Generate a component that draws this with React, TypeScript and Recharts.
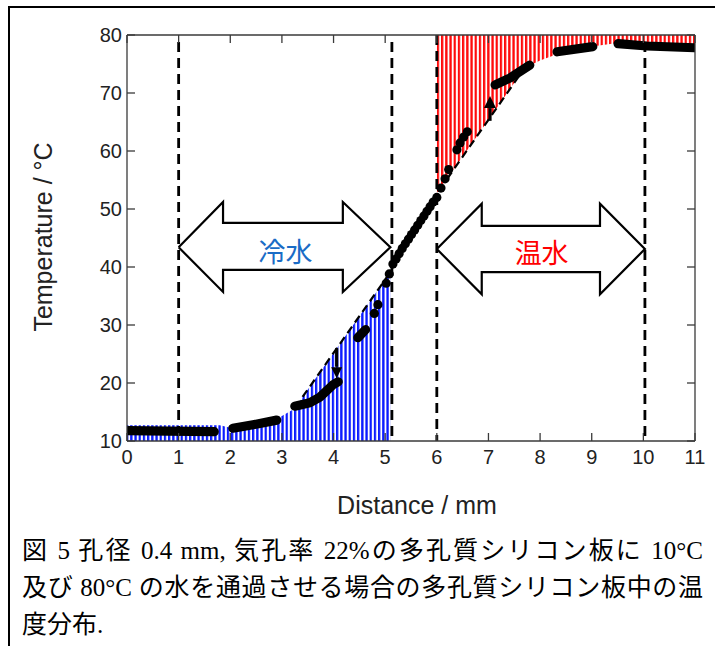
import React from 'react';
import { ComposedChart, XAxis, YAxis, Line, Area, Scatter, ReferenceLine } from 'recharts';

// ---------- data ----------
const xTicks = [0, 1, 2, 3, 4, 5, 6, 7, 8, 9, 10, 11];
const yTicks = [10, 20, 30, 40, 50, 60, 70, 80];

// cold-water hatched region (upper boundary)
const coldRegion = [
  { x: 0, y: 12.7 }, { x: 1.8, y: 12.7 }, { x: 2.0, y: 12.3 }, { x: 2.5, y: 13.0 },
  { x: 3.0, y: 14.3 }, { x: 3.25, y: 15.6 }, { x: 3.4, y: 17.6 }, { x: 5.1, y: 39.1 },
];
// hot-water hatched region (lower boundary up to 80)
const hotRegion = [
  { x: 6.0, r: [52.8, 80] }, { x: 6.2, r: [55.2, 80] }, { x: 7.7, r: [74.3, 80] },
  { x: 8.0, r: [75.6, 80] }, { x: 8.3, r: [76.6, 80] }, { x: 9.0, r: [78.0, 80] },
  { x: 9.5, r: [78.6, 80] }, { x: 11, r: [78.0, 80] },
];
// dense measured segments (drawn as thick bands)
const measuredBands = [
  { x: 0.03, y: 11.8 }, { x: 0.8, y: 11.7 }, { x: 1.69, y: 11.6 }, { x: 1.85, y: null },
  { x: 2.05, y: 12.2 }, { x: 2.44, y: 12.8 }, { x: 2.9, y: 13.6 }, { x: 3.1, y: null },
  { x: 3.25, y: 16.0 }, { x: 3.54, y: 16.6 }, { x: 3.74, y: 17.6 }, { x: 3.99, y: 19.7 }, { x: 4.09, y: 20.2 }, { x: 4.3, y: null },
  { x: 4.47, y: 27.8 }, { x: 4.62, y: 29.2 }, { x: 4.7, y: null },
  { x: 7.13, y: 71.4 }, { x: 7.42, y: 72.6 }, { x: 7.8, y: 74.8 }, { x: 8.0, y: null },
  { x: 8.33, y: 77.1 }, { x: 9.02, y: 78.0 }, { x: 9.3, y: null },
  { x: 9.51, y: 78.5 }, { x: 10.07, y: 78.1 }, { x: 10.99, y: 77.8 },
];
// individual measured dots
const measuredDots = [
  { x: 4.79, y: 32.0 }, { x: 4.86, y: 33.5 }, { x: 5.02, y: 37.2 }, { x: 5.08, y: 38.8 },
  { x: 5.15, y: 40.5 }, { x: 5.21, y: 41.4 }, { x: 5.27, y: 42.3 }, { x: 5.33, y: 43.2 },
  { x: 5.39, y: 44.0 }, { x: 5.45, y: 44.8 }, { x: 5.51, y: 45.6 }, { x: 5.57, y: 46.4 },
  { x: 5.63, y: 47.2 }, { x: 5.69, y: 48.0 }, { x: 5.75, y: 48.8 }, { x: 5.81, y: 49.6 },
  { x: 5.87, y: 50.4 }, { x: 5.93, y: 51.2 }, { x: 6.0, y: 52.0 }, { x: 6.08, y: 53.6 },
  { x: 6.16, y: 55.2 }, { x: 6.23, y: 56.8 }, { x: 6.39, y: 60.2 }, { x: 6.45, y: 61.4 },
  { x: 6.52, y: 62.4 }, { x: 6.59, y: 63.3 },
];
// dashed guide lines
const coldDashed = [{ x: 3.4, y: 17.6 }, { x: 5.1, y: 39.1 }];
const hotDashed = [{ x: 6.2, y: 55.2 }, { x: 7.7, y: 74.3 }];
const boundaryLines = [
  { x: 1, top: 78.8 }, { x: 5.13, top: 78.8 }, { x: 6, top: 80 }, { x: 10.03, top: 78.8 },
];
// double arrows
const coldArrow = [
  { x: 1.0, y: 43.4 }, { x: 1.86, y: 51.2 }, { x: 1.86, y: 47.6 }, { x: 4.18, y: 47.6 },
  { x: 4.18, y: 51.2 }, { x: 5.1, y: 43.4 }, { x: 4.18, y: 35.7 }, { x: 4.18, y: 39.5 },
  { x: 1.86, y: 39.5 }, { x: 1.86, y: 35.7 }, { x: 1.0, y: 43.4 },
];
const hotArrow = [
  { x: 6.0, y: 43.1 }, { x: 6.87, y: 50.9 }, { x: 6.87, y: 47.1 }, { x: 9.16, y: 47.1 },
  { x: 9.16, y: 50.9 }, { x: 10.03, y: 43.1 }, { x: 9.16, y: 35.3 }, { x: 9.16, y: 39.1 },
  { x: 6.87, y: 39.1 }, { x: 6.87, y: 35.3 }, { x: 6.0, y: 43.1 },
];
// small shift arrows
const downShaft = [{ x: 4.06, y: 26.0 }, { x: 4.06, y: 22.8 }];
const downHead = [{ x: 4.06, y: 20.8 }];
const upShaft = [{ x: 7.03, y: 65.2 }, { x: 7.03, y: 67.4 }];
const upHead = [{ x: 7.03, y: 69.5 }];
// region labels
const coldLabel = [{ x: 3.07, y: 42.9, text: '冷水' }];
const hotLabel = [{ x: 8.03, y: 42.6, text: '温水' }];

const captionLines = [
  '図 5 孔径 0.4 mm, 気孔率 22%の多孔質シリコン板に 10°C',
  '及び 80°C の水を通過させる場合の多孔質シリコン板中の温',
  '度分布.',
];

// ---------- styles ----------
const AX = '#3a3a3a';
const SANS = '"Liberation Sans", Arial, Helvetica, sans-serif';
const TICK_FS = 20;

const LeftTick = (p: any) => (
  <g>
    <line x1={p.x + 5} x2={p.x + 13} y1={p.y} y2={p.y} stroke={AX} strokeWidth={1.3} />
    <text x={p.x} y={p.y} dy="0.36em" textAnchor="end" fontSize={TICK_FS} fontFamily={SANS} fill="#222">
      {p.payload.value}
    </text>
  </g>
);
const RightTick = (p: any) => (
  <line x1={p.x} x2={p.x - 8} y1={p.y} y2={p.y} stroke={AX} strokeWidth={1.3} />
);
const BottomTick = (p: any) => (
  <g>
    <line x1={p.x} x2={p.x} y1={p.y - 9} y2={p.y - 17} stroke={AX} strokeWidth={1.3} />
    <text x={p.x} y={p.y} dy="0.71em" textAnchor="middle" fontSize={TICK_FS} fontFamily={SANS} fill="#222">
      {p.payload.value}
    </text>
  </g>
);
const TopTick = (p: any) => (
  <line x1={p.x} x2={p.x} y1={p.y} y2={p.y + 8} stroke={AX} strokeWidth={1.3} />
);

const yLabel = (props: any) => {
  const vb = props.viewBox || { x: 0, y: 35, width: 127, height: 406 };
  const cx = vb.x + 43;
  const cy = vb.y + vb.height / 2 - 1;
  return (
    <text x={cx} y={cy} transform={`rotate(-90 ${cx} ${cy})`} textAnchor="middle" dominantBaseline="central"
      fontSize={25} fontFamily={SANS} fill="#222">Temperature / °C</text>
  );
};
const xLabel = (props: any) => {
  const vb = props.viewBox || { x: 127, y: 441, width: 568, height: 89 };
  const cx = vb.x + vb.width / 2 + 6;
  const cy = vb.y + 64;
  return (
    <text x={cx} y={cy} textAnchor="middle" dominantBaseline="central"
      fontSize={25} fontFamily={SANS} fill="#222">Distance / mm</text>
  );
};

const dotShape = (p: any) => <circle cx={p.cx} cy={p.cy} r={4.6} fill="#000" />;
const downHeadShape = (p: any) => (
  <polygon points={`${p.cx - 5.5},${p.cy - 11} ${p.cx + 5.5},${p.cy - 11} ${p.cx},${p.cy}`} fill="#000" />
);
const upHeadShape = (p: any) => (
  <polygon points={`${p.cx - 6},${p.cy + 12} ${p.cx + 6},${p.cy + 12} ${p.cx},${p.cy}`} fill="#000" />
);
const textShape = (color: string) => (p: any) => (
  <text x={p.cx} y={p.cy} textAnchor="middle" dominantBaseline="central" fontSize={27}
    fontFamily='"Noto Sans CJK JP", sans-serif' fill={color}>{p.payload.text}</text>
);

export default function App() {
  return (
    <div style={{ position: 'fixed', left: 0, top: 0, width: 715, height: 646, overflow: 'hidden', background: '#fff' }}>
      <div style={{ position: 'absolute', left: 8, top: 6, width: 800, height: 800,
        borderLeft: '2.5px solid #000', borderTop: '2.5px solid #000' }} />
      <div style={{ position: 'absolute', left: 0, top: 0 }}>
        <ComposedChart width={715} height={530} margin={{ top: 34, right: 19, bottom: 0, left: 0 }}>
          <defs>
            <pattern id="blueHatch" patternUnits="userSpaceOnUse" width={4.2} height={8}>
              <rect x={0} y={0} width={2.3} height={8} fill="#0a1aff" />
            </pattern>
            <pattern id="redHatch" patternUnits="userSpaceOnUse" width={4.2} height={8}>
              <rect x={0} y={0} width={2.3} height={8} fill="#ff0a0a" />
            </pattern>
          </defs>
          <XAxis dataKey="x" type="number" domain={[0, 11]} ticks={xTicks} interval={0}
            allowDataOverflow height={89} tickSize={0} tickMargin={9} tickLine={false}
            axisLine={{ stroke: AX, strokeWidth: 1.3 }} tick={BottomTick} label={xLabel} />
          <XAxis xAxisId="top" orientation="top" dataKey="x" type="number" domain={[0, 11]} ticks={xTicks}
            interval={0} allowDataOverflow height={1} tickSize={0} tickMargin={0} tickLine={false}
            axisLine={{ stroke: AX, strokeWidth: 1.3 }} tick={TopTick} />
          <YAxis dataKey="y" type="number" domain={[10, 80]} ticks={yTicks} interval={0} allowDataOverflow
            width={127} tickSize={0} tickMargin={5} tickLine={false}
            axisLine={{ stroke: AX, strokeWidth: 1.3 }} tick={LeftTick} label={yLabel} />
          <YAxis yAxisId="right" orientation="right" dataKey="y" type="number" domain={[10, 80]} ticks={yTicks}
            interval={0} allowDataOverflow width={1} tickSize={0} tickMargin={0} tickLine={false}
            axisLine={{ stroke: AX, strokeWidth: 1.3 }} tick={RightTick} />

          <Area data={coldRegion} dataKey="y" type="linear" baseValue={10} stroke="none"
            fill="url(#blueHatch)" fillOpacity={1} isAnimationActive={false} dot={false} activeDot={false} />
          <Area data={hotRegion} dataKey="r" type="linear" stroke="none"
            fill="url(#redHatch)" fillOpacity={1} isAnimationActive={false} dot={false} activeDot={false} />

          {boundaryLines.map((b) => (
            <ReferenceLine key={b.x} segment={[{ x: b.x, y: b.top }, { x: b.x, y: 10 }]}
              stroke="#000" strokeWidth={2.8} strokeDasharray="10 6" ifOverflow="visible" />
          ))}

          <Line data={coldDashed} dataKey="y" type="linear" stroke="#000" strokeWidth={2.2}
            strokeDasharray="8 5" dot={false} activeDot={false} isAnimationActive={false} />
          <Line data={hotDashed} dataKey="y" type="linear" stroke="#000" strokeWidth={2.2}
            strokeDasharray="8 5" dot={false} activeDot={false} isAnimationActive={false} />

          <Line data={coldArrow} dataKey="y" type="linear" stroke="#000" strokeWidth={2.2}
            strokeLinejoin="miter" dot={false} activeDot={false} isAnimationActive={false} />
          <Line data={hotArrow} dataKey="y" type="linear" stroke="#000" strokeWidth={2.2}
            strokeLinejoin="miter" dot={false} activeDot={false} isAnimationActive={false} />

          <Line data={measuredBands} dataKey="y" type="linear" stroke="#000" strokeWidth={9.2}
            strokeLinecap="round" strokeLinejoin="round" connectNulls={false}
            dot={false} activeDot={false} isAnimationActive={false} />
          <Scatter data={measuredDots} dataKey="y" shape={dotShape} isAnimationActive={false} />

          <Line data={downShaft} dataKey="y" type="linear" stroke="#000" strokeWidth={3.2}
            dot={false} activeDot={false} isAnimationActive={false} />
          <Scatter data={downHead} dataKey="y" shape={downHeadShape} isAnimationActive={false} />
          <Line data={upShaft} dataKey="y" type="linear" stroke="#000" strokeWidth={3.2}
            dot={false} activeDot={false} isAnimationActive={false} />
          <Scatter data={upHead} dataKey="y" shape={upHeadShape} isAnimationActive={false} />

          <Scatter data={coldLabel} dataKey="y" shape={textShape('#1a6cc6')} isAnimationActive={false} />
          <Scatter data={hotLabel} dataKey="y" shape={textShape('#ff0000')} isAnimationActive={false} />
        </ComposedChart>
      </div>
      <div style={{ position: 'absolute', left: 22, top: 532, width: 681, fontSize: 25, lineHeight: '37px',
        fontFamily: '"Liberation Serif", "Noto Sans CJK JP", serif', color: '#000' }}>
        {captionLines.map((l, i) => (
          <div key={i} style={{ textAlign: i < 2 ? 'justify' : 'left', textAlignLast: i < 2 ? 'justify' : 'left',
            whiteSpace: 'nowrap' }}>{l}</div>
        ))}
      </div>
    </div>
  );
}
